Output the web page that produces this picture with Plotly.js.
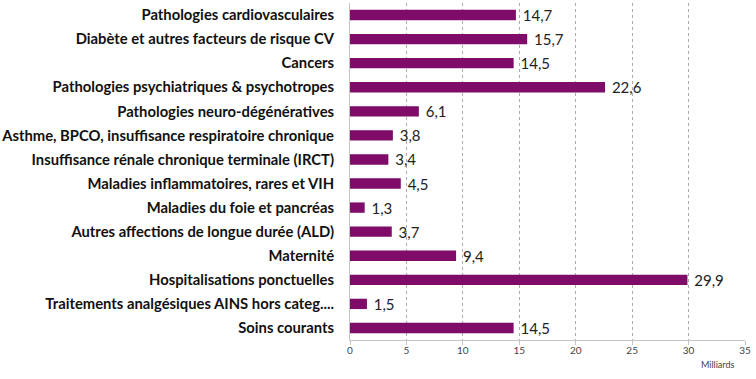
<!DOCTYPE html>
<html><head><meta charset="utf-8">
<script src="https://cdn.plot.ly/plotly-3.0.1.min.js"></script>
<style>html,body{margin:0;padding:0;background:#fff}#chart{width:756px;height:379px}</style>
</head><body><div id="chart"></div>
<script>
var categories = [
  "Pathologies cardiovasculaires",
  "Diabète et autres facteurs de risque CV",
  "Cancers",
  "Pathologies psychiatriques & psychotropes",
  "Pathologies neuro-dégénératives",
  "Asthme, BPCO, insuffisance respiratoire chronique",
  "Insuffisance rénale chronique terminale (IRCT)",
  "Maladies inflammatoires, rares et VIH",
  "Maladies du foie et pancréas",
  "Autres affections de longue durée (ALD)",
  "Maternité",
  "Hospitalisations ponctuelles",
  "Traitements analgésiques AINS hors categ....",
  "Soins courants"
];
var values = [14.7, 15.7, 14.5, 22.6, 6.1, 3.8, 3.4, 4.5, 1.3, 3.7, 9.4, 29.9, 1.5, 14.5];
var tickVals = [0, 5, 10, 15, 20, 25, 30, 35];

var trace = {
  type: 'bar', orientation: 'h',
  x: values, y: categories,
  marker: {color: '#7E0C68'},
  width: 0.43,
  text: values, texttemplate: '\u00a0%{x:.1f}', textposition: 'outside',
  constraintext: 'none',
  textfont: {family: 'Lato, "Open Sans", sans-serif', size: 15, color: '#222'},
  cliponaxis: false, hoverinfo: 'none'
};
var layout = {
  width: 756, height: 379,
  margin: {l: 350, r: 11, t: 3, b: 39},
  separators: ',.',
  paper_bgcolor: '#fff', plot_bgcolor: '#fff',
  showlegend: false, bargap: 0.57,
  font: {family: 'Lato, "Open Sans", sans-serif'},
  xaxis: {
    range: [0, 35], tickvals: tickVals, ticktext: tickVals.map(String),
    showgrid: true, gridcolor: '#aaaaaa', griddash: '3px,3px', gridwidth: 1,
    zeroline: false, showline: true, linecolor: '#c4c4c4', linewidth: 1,
    ticks: 'outside', ticklen: 4, tickcolor: '#c4c4c4',
    tickfont: {size: 10, color: '#444'}, ticklabelstandoff: -3
  },
  yaxis: {
    autorange: 'reversed', showline: true, linecolor: '#c4c4c4', linewidth: 1,
    ticks: '',
    tickfont: {size: 14.8, color: '#111', weight: 'bold'},
    showgrid: false, zeroline: false, ticklabelstandoff: 12
  },
  annotations: [{
    text: 'Milliards', xref: 'paper', yref: 'paper', x: 0.93, y: -0.074,
    showarrow: false, xanchor: 'center', yanchor: 'middle',
    font: {size: 9, color: '#444'}
  }]
};
Plotly.newPlot('chart', [trace], layout, {staticPlot: true, displayModeBar: false});
</script></body></html>
